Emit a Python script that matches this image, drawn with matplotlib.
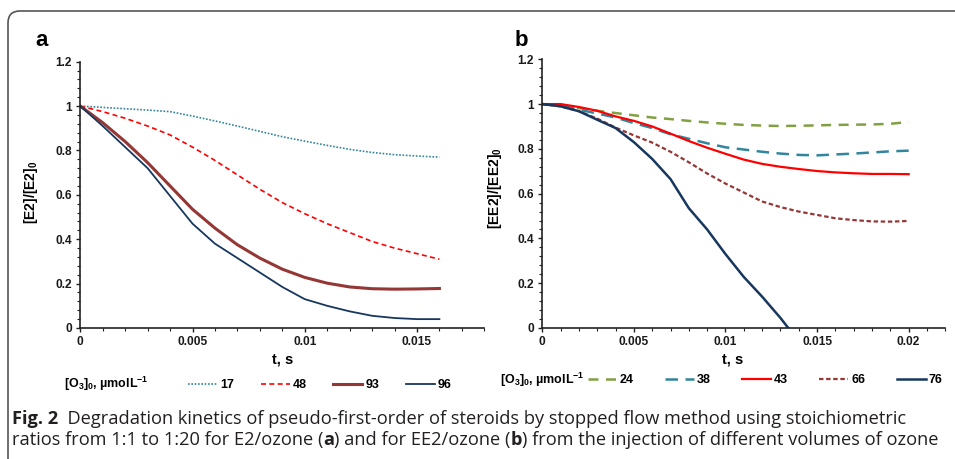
import matplotlib
matplotlib.use("Agg")
import matplotlib.pyplot as plt
from matplotlib.lines import Line2D
from matplotlib.patches import FancyBboxPatch
from matplotlib.transforms import IdentityTransform
from matplotlib.ticker import MultipleLocator, FuncFormatter

plt.rcParams['font.family'] = 'Liberation Sans'
plt.rcParams['font.weight'] = 'bold'
plt.rcParams['axes.labelweight'] = 'bold'
plt.rcParams['mathtext.fontset'] = 'custom'
plt.rcParams['mathtext.rm'] = 'Liberation Sans:bold'
plt.rcParams['mathtext.it'] = 'Liberation Sans:bold'
plt.rcParams['mathtext.bf'] = 'Liberation Sans:bold'
plt.rcParams['mathtext.default'] = 'rm'

# panel a: E2 / ozone
t_a = [0.0, 0.001, 0.002, 0.003, 0.004, 0.005, 0.006, 0.007, 0.008,
       0.009, 0.010, 0.011, 0.012, 0.013, 0.014, 0.015, 0.016]
e2_17 = [1.0, 0.994, 0.988, 0.982, 0.975, 0.955, 0.933, 0.91, 0.886,
         0.862, 0.842, 0.823, 0.805, 0.791, 0.781, 0.775, 0.77]
e2_48 = [1.0, 0.975, 0.945, 0.91, 0.87, 0.815, 0.755, 0.69, 0.625,
         0.565, 0.515, 0.47, 0.43, 0.39, 0.36, 0.335, 0.31]
e2_93 = [1.0, 0.925, 0.84, 0.745, 0.64, 0.535, 0.45, 0.375, 0.315,
         0.265, 0.228, 0.202, 0.185, 0.177, 0.175, 0.176, 0.178]
e2_96 = [1.0, 0.91, 0.815, 0.72, 0.595, 0.47, 0.38, 0.315, 0.25,
         0.185, 0.13, 0.1, 0.075, 0.055, 0.045, 0.04, 0.04]

# panel b: EE2 / ozone
t_b = [0.0, 0.001, 0.002, 0.003, 0.004, 0.005, 0.006, 0.007, 0.008, 0.009,
       0.010, 0.011, 0.012, 0.013, 0.014, 0.015, 0.016, 0.017, 0.018, 0.019, 0.020]
ee2_24 = [1.0, 0.993, 0.982, 0.97, 0.96, 0.95, 0.94, 0.933, 0.925, 0.918,
          0.912, 0.907, 0.904, 0.902, 0.903, 0.905, 0.907, 0.908, 0.909, 0.912, 0.92]
ee2_38 = [1.0, 0.995, 0.975, 0.958, 0.94, 0.915, 0.893, 0.865, 0.845, 0.825,
          0.807, 0.797, 0.787, 0.779, 0.773, 0.771, 0.775, 0.779, 0.784, 0.789, 0.792]
ee2_43 = [1.0, 1.0, 0.987, 0.97, 0.945, 0.925, 0.9, 0.868, 0.835, 0.805,
          0.778, 0.752, 0.733, 0.72, 0.71, 0.701, 0.695, 0.691, 0.688, 0.688, 0.687]
ee2_66 = [1.0, 0.99, 0.968, 0.935, 0.895, 0.86, 0.828, 0.787, 0.74, 0.69,
          0.645, 0.605, 0.565, 0.54, 0.52, 0.505, 0.49, 0.482, 0.476, 0.475, 0.478]
t_b76 = [0.0, 0.001, 0.002, 0.003, 0.004, 0.005, 0.006, 0.007, 0.008,
         0.009, 0.010, 0.011, 0.012, 0.013, 0.014]
ee2_76 = [1.0, 0.99, 0.968, 0.93, 0.893, 0.83, 0.755, 0.665, 0.535,
          0.44, 0.33, 0.228, 0.14, 0.045, -0.06]

labels_a = ['17', '48', '93', '96']
labels_b = ['24', '38', '43', '66', '76']

TEAL = '#31859C'
RED = '#FF0000'
BROWN = '#953735'
NAVY = '#17375E'
GREEN = '#82A043'

styles_a = [
    dict(color=TEAL, ls=(0, (1, 1)), lw=1.2),
    dict(color=RED, ls=(0, (3, 2)), lw=1.2),
    dict(color=BROWN, ls='-', lw=2.2),
    dict(color=NAVY, ls='-', lw=1.3),
]
styles_b = [
    dict(color=GREEN, ls=(0, (4, 3)), lw=1.8),
    dict(color=TEAL, ls=(0, (5, 3)), lw=1.8),
    dict(color=RED, ls='-', lw=1.6),
    dict(color=BROWN, ls=(0, (2, 1.2)), lw=1.6),
    dict(color=NAVY, ls='-', lw=1.8),
]

fig = plt.figure(figsize=(9.55, 4.59), dpi=100)
W, H = 955, 459


def px_axes(left, right, top, bottom):
    return fig.add_axes([left / W, (H - bottom) / H, (right - left) / W, (bottom - top) / H])


def style_axes(ax, xmax):
    ax.set_xlim(0, xmax)
    ax.set_ylim(0, 1.2)
    for s in ['top', 'right']:
        ax.spines[s].set_visible(False)
    for s in ['left', 'bottom']:
        ax.spines[s].set_linewidth(1.2)
        ax.spines[s].set_color('#222222')
    ax.xaxis.set_major_locator(MultipleLocator(0.005))
    ax.xaxis.set_minor_locator(MultipleLocator(0.001))
    ax.yaxis.set_major_locator(MultipleLocator(0.2))
    ax.yaxis.set_minor_locator(MultipleLocator(0.04))
    fmt = FuncFormatter(lambda v, p: f'{v:g}')
    ax.xaxis.set_major_formatter(fmt)
    ax.yaxis.set_major_formatter(fmt)
    ax.tick_params(which='major', direction='out', length=3, width=1, labelsize=8.6, pad=3,
                   color='#222222', labelcolor='#1a1a1a')
    ax.tick_params(which='minor', direction='out', length=2, width=0.8, color='#222222')


ax_a = px_axes(80.3, 484.3, 61.7, 328)
ax_b = px_axes(542.3, 945.3, 59.3, 328)
style_axes(ax_a, 0.018)
style_axes(ax_b, 0.022)

for y, st in zip([e2_17, e2_48, e2_93, e2_96], styles_a):
    ax_a.plot(t_a, y, **st)
for y, st in zip([ee2_24, ee2_38, ee2_43, ee2_66], styles_b[:4]):
    ax_b.plot(t_b, y, **st)
ax_b.plot(t_b76, ee2_76, **styles_b[4])

ax_a.set_xlabel('t, s', fontsize=10.5)
ax_a.xaxis.set_label_coords(0.5, -0.092)
ax_b.set_xlabel('t, s', fontsize=10.5)
ax_b.xaxis.set_label_coords(0.473, -0.092)
ax_a.set_ylabel('[E2]/[E2]$_0$', fontsize=10)
ax_a.yaxis.set_label_coords(-0.1, 0.51)
ax_b.set_ylabel('[EE2]/[EE2]$_0$', fontsize=10)
ax_b.yaxis.set_label_coords(-0.095, 0.52)

fig.text(35 / W, 1 - 41 / H, 'a', fontsize=16, va='center')
fig.text(515 / W, 1 - 41 / H, 'b', fontsize=16, va='center')

# legends
title = '[O$_3$]$_0$, µmolL$^{-1}$'
leg_kw = dict(bbox_transform=fig.transFigure, frameon=False, borderpad=0, borderaxespad=0,
              handlelength=2.32, handletextpad=0.24, fontsize=9, loc='center left')
h_a = [Line2D([], [], **st) for st in styles_a]
ax_a.legend(h_a, labels_a, ncol=4, bbox_to_anchor=(188 / W, 1 - 385 / H),
            columnspacing=2.13, **leg_kw)
fig.text(64 / W, 1 - 384 / H, title, fontsize=9, va='center')
h_b = [Line2D([], [], **st) for st in styles_b]
ax_b.legend(h_b, labels_b, ncol=5, bbox_to_anchor=(588 / W, 1 - 380 / H),
            columnspacing=2.49, **leg_kw)
fig.text(500 / W, 1 - 380 / H, title, fontsize=9, va='center')

# figure frame (rounded top-left corner)
fig.add_artist(FancyBboxPatch((8, -40), 1000, H - 11 + 40, boxstyle='round,pad=0,rounding_size=12',
                              transform=IdentityTransform(), fill=False, ec='#555555', lw=1.2))

# caption
CAP = '#231F20'
cap_kw = dict(fontsize=12, color=CAP, family='Open Sans')
cap_texts = []


def caption_line(x, y, parts):
    prev = fig.text(x, y, parts[0][0], weight=parts[0][1], va='baseline', **cap_kw)
    cap_texts.append(prev)
    for s, w in parts[1:]:
        prev = ax_a.annotate(s, xy=(1, 0), xycoords=prev, va='bottom', ha='left',
                             weight=w, annotation_clip=False, **cap_kw)
        cap_texts.append(prev)
    return prev


first = None
caption_line(12 / W, 1 - 423.5 / H, [
    ('Fig. 2', 'bold'),
    ('  Degradation kinetics of pseudo-first-order of steroids by stopped flow method using stoichiometric', 'normal'),
])
line1_end = cap_texts[-1]
caption_line(12 / W, 1 - 445 / H, [
    ('ratios from 1:1 to 1:20 for E2/ozone (', 'normal'),
    ('a', 'bold'),
    (') and for EE2/ozone (', 'normal'),
    ('b', 'bold'),
    (') from the injection of different volumes of ozone', 'normal'),
])

# scale caption so the first line spans the same width as in the original
fig.canvas.draw()
r = fig.canvas.get_renderer()
width = line1_end.get_window_extent(r).x1 - cap_texts[0].get_window_extent(r).x0
scale = 893 / width
for t in cap_texts:
    t.set_fontsize(12 * scale)

fig.savefig('out.png', dpi=100)
